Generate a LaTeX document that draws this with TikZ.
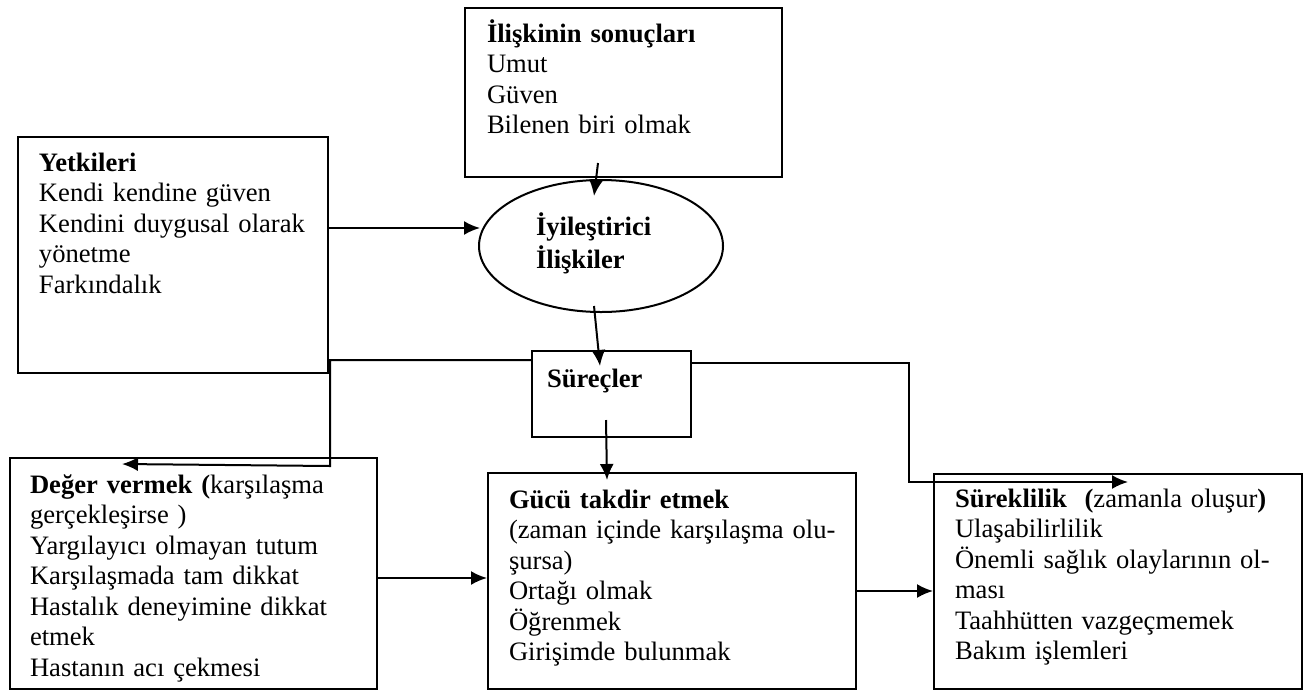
\documentclass[tikz,border=0pt]{standalone}
\usepackage{fontspec}
\setmainfont{Liberation Serif}
\usepackage{tikz}
\usetikzlibrary{shapes.geometric}
\usetikzlibrary{calc}
\usetikzlibrary{arrows.meta}
\tikzset{every picture/.style={line width=1pt}}
\tikzset{kutu/.style={draw,rectangle,anchor=north west,inner sep=0pt},
yazi/.style={anchor=base west,align=left,inner sep=0pt,text width=175pt,font=\fontsize{13.3}{15.25}\selectfont},
ok/.style={-{Latex[length=8pt,width=7pt]}}}

\begin{document}
\begin{tikzpicture}[x=0.5pt,y=-0.5pt]
\useasboundingbox (0,0) rectangle (1310,691);
% kutular
\node[kutu,minimum width=155pt,minimum height=118pt] (yetki) at (17,136) {};
\node[kutu,minimum width=158.5pt,minimum height=84.5pt] (sonuc) at (464,7) {};
\node[draw,ellipse,minimum width=122pt,minimum height=66pt,inner sep=0pt] (iyi) at (601,246) {};
\node[kutu,minimum width=79.5pt,minimum height=43pt] (surec) at (531,350) {};
\node[kutu,minimum width=183.5pt,minimum height=115.5pt] (deger) at (9,457) {};
\node[kutu,minimum width=184pt,minimum height=108pt] (guc) at (487,472) {};
\node[kutu,minimum width=184pt,minimum height=107.5pt] (surek) at (933,473) {};
% yazilar
\node[yazi] (yetkiyazi) at (38,171) {\textbf{Yetkileri}\\Kendi kendine güven\\Kendini duygusal olarak\\yönetme\\Farkındalık};
\node[yazi] (sonucyazi) at (486,42) {\textbf{İlişkinin sonuçları}\\Umut\\Güven\\Bilenen biri olmak};
\node[yazi,text width=110pt,font=\fontsize{13.3}{16.5}\selectfont\bfseries] (iyiyazi) at (535,235) {İyileştirici\\İlişkiler};
\node[yazi,text width=70pt,font=\fontsize{13.3}{15.25}\selectfont\bfseries] (surecyazi) at (546,387) {Süreçler};
\node[yazi] (degeryazi) at (29,493) {\textbf{Değer vermek (}karşılaşma\\gerçekleşirse )\\Yargılayıcı olmayan tutum\\Karşılaşmada tam dikkat\\Hastalık deneyimine dikkat\\etmek\\Hastanın acı çekmesi};
\node[yazi] (gucyazi) at (508,508) {\textbf{Gücü takdir etmek}\\(zaman içinde karşılaşma olu-\\şursa)\\Ortağı olmak\\Öğrenmek\\Girişimde bulunmak};
\node[yazi] (surekyazi) at (954,507) {\textbf{Süreklilik}\ \ \textbf{(}zamanla oluşur\textbf{)}\\Ulaşabilirlilik\\Önemli sağlık olaylarının ol-\\ması\\Taahhütten vazgeçmemek\\Bakım işlemleri};
% oklar
\draw[ok] ($(sonuc.south)+(-25.5,-15)$) -- ($(iyi.north)+(-7,17)$);
\draw[ok] ($(yetki.north east)+(0,92)$) -- ($(iyi.west)+(2,-18)$);
\draw[ok] ($(iyi.south)+(-7,-7)$) -- ($(surec.north)+(-11.5,16)$);
\draw[ok] ($(surec.north west)+(0,10)$) -| ($(yetki.south east)+(1,92)$) -- ($(deger.north west)+(113,7)$);
\draw[ok] ($(surec.north east)+(0,13)$) -| ($(surek.north west)+(-24,9)$) -- ($(surek.north west)+(195,9)$);
\draw[ok] ($(surec.south)+(-5.5,-18)$) -- ($(guc.north west)+(120,8)$);
\draw[ok] ($(deger.east)+(0,4.5)$) -- ($(guc.west)+(0,-3)$);
\draw[ok] ($(guc.east)+(0,10)$) -- ($(surek.west)+(0,9.5)$);
\end{tikzpicture}
\end{document}
